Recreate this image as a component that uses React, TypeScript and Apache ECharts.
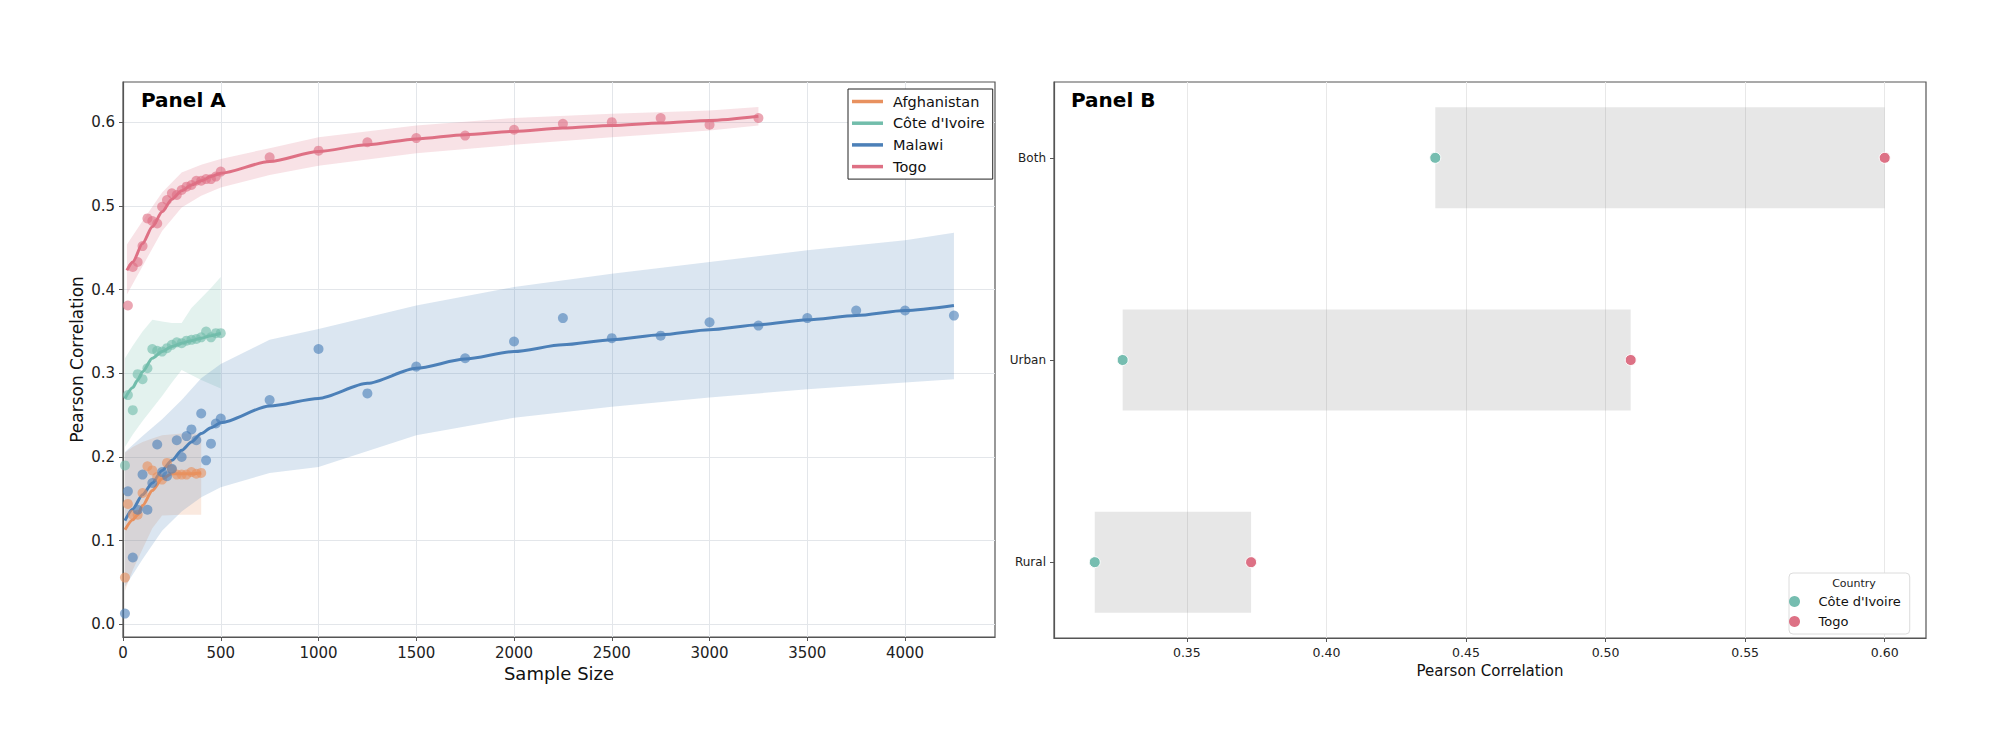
import React, { useEffect, useRef } from 'react';
import * as echarts from 'echarts';

const FONT = 'DejaVu Sans';

// ---------- Panel A ----------
const COUNTRIES = ['Afghanistan', "Côte d'Ivoire", 'Malawi', 'Togo'];
const LINE_COLORS = ['#E8915F', '#72BDAB', '#4C80B8', '#DE7084'];

const X_TICKS_A = [0, 500, 1000, 1500, 2000, 2500, 3000, 3500, 4000];
const Y_TICKS_A = [0, 0.1, 0.2, 0.3, 0.4, 0.5, 0.6];

// observed points
const N_AFG = [10, 25, 50, 75, 100, 125, 150, 175, 200, 225, 250, 275, 300, 325, 350, 375, 400];
const R_AFG = [0.056, 0.144, 0.131, 0.131, 0.157, 0.189, 0.184, 0.176, 0.173, 0.193, 0.185, 0.179, 0.179, 0.179, 0.182, 0.18, 0.181];

const N_CIV = [10, 25, 50, 75, 100, 125, 150, 175, 200, 225, 250, 275, 300, 325, 350, 375, 400, 425, 450, 475, 500];
const R_CIV = [0.19, 0.274, 0.256, 0.299, 0.293, 0.306, 0.329, 0.327, 0.326, 0.33, 0.334, 0.337, 0.336, 0.339, 0.34, 0.341, 0.343, 0.35, 0.343, 0.348, 0.348];

const N_MWI = [10, 25, 50, 75, 100, 125, 150, 175, 200, 225, 250, 275, 300, 325, 350, 375, 400, 425, 450, 475, 500,
  750, 1000, 1250, 1500, 1750, 2000, 2250, 2500, 2750, 3000, 3250, 3500, 3750, 4000, 4250];
const R_MWI = [0.013, 0.159, 0.08, 0.137, 0.179, 0.137, 0.169, 0.215, 0.182, 0.177, 0.186, 0.22, 0.2, 0.225, 0.233, 0.22, 0.252, 0.196, 0.216, 0.24, 0.246,
  0.268, 0.329, 0.276, 0.308, 0.318, 0.338, 0.366, 0.342, 0.345, 0.361, 0.357, 0.366, 0.375, 0.375, 0.369];

const N_TGO = [25, 50, 75, 100, 125, 150, 175, 200, 225, 250, 275, 300, 325, 350, 375, 400, 425, 450, 475, 500,
  750, 1000, 1250, 1500, 1750, 2000, 2250, 2500, 2750, 3000, 3250];
const R_TGO = [0.381, 0.427, 0.433, 0.452, 0.485, 0.482, 0.479, 0.499, 0.507, 0.515, 0.513, 0.519, 0.523, 0.525, 0.53, 0.53, 0.532, 0.532, 0.535, 0.541,
  0.558, 0.566, 0.576, 0.581, 0.584, 0.591, 0.598, 0.6, 0.605, 0.597, 0.605];

// fitted curves
const FIT_AFG_N = [10, 50, 75, 100, 150, 200, 250, 300, 350, 400];
const FIT_AFG = [0.113, 0.125, 0.131, 0.142, 0.16, 0.174, 0.18, 0.18, 0.18, 0.181];
const FIT_CIV_N = [10, 50, 75, 100, 150, 200, 250, 300, 350, 400, 450, 500];
const FIT_CIV = [0.27, 0.283, 0.292, 0.302, 0.318, 0.326, 0.332, 0.336, 0.339, 0.342, 0.345, 0.348];
const FIT_MWI_N = [10, 50, 100, 150, 200, 250, 300, 350, 400, 450, 500, 750, 1000, 1250, 1500, 1750, 2000, 2250, 2500, 2750, 3000, 3250, 3500, 3750, 4000, 4250];
const FIT_MWI = [0.124, 0.138, 0.155, 0.169, 0.184, 0.196, 0.208, 0.218, 0.228, 0.235, 0.241, 0.261, 0.27, 0.288, 0.306, 0.317, 0.326, 0.334, 0.34, 0.346, 0.352, 0.358, 0.364, 0.369, 0.375, 0.381];
const FIT_TGO_N = [20, 50, 100, 150, 200, 250, 300, 350, 400, 450, 500, 750, 1000, 1250, 1500, 1750, 2000, 2250, 2500, 2750, 3000, 3250];
const FIT_TGO = [0.423, 0.433, 0.455, 0.475, 0.493, 0.508, 0.518, 0.525, 0.53, 0.535, 0.539, 0.553, 0.565, 0.573, 0.58, 0.585, 0.589, 0.593, 0.596, 0.599, 0.602, 0.607];

// confidence bands
const BAND_AFG_N = [10, 50, 100, 150, 200, 300, 400];
const BAND_AFG_LO = [0.04, 0.065, 0.09, 0.115, 0.13, 0.131, 0.131];
const BAND_AFG_HI = [0.205, 0.212, 0.218, 0.222, 0.226, 0.228, 0.228];
const BAND_CIV_N = [10, 50, 100, 150, 200, 250, 300, 350, 400, 450, 500];
const BAND_CIV_LO = [0.212, 0.227, 0.243, 0.258, 0.273, 0.289, 0.304, 0.298, 0.292, 0.287, 0.282];
const BAND_CIV_HI = [0.318, 0.333, 0.35, 0.364, 0.362, 0.36, 0.36, 0.378, 0.39, 0.402, 0.415];
const BAND_MWI_N = [10, 100, 200, 300, 400, 500, 750, 1000, 1500, 2000, 2500, 3000, 3500, 4000, 4250];
const BAND_MWI_LO = [0.045, 0.078, 0.112, 0.135, 0.152, 0.164, 0.181, 0.188, 0.226, 0.247, 0.26, 0.271, 0.281, 0.289, 0.293];
const BAND_MWI_HI = [0.206, 0.225, 0.245, 0.268, 0.294, 0.311, 0.34, 0.353, 0.381, 0.403, 0.419, 0.433, 0.447, 0.459, 0.468];
const BAND_TGO_N = [20, 100, 200, 300, 400, 500, 750, 1000, 1500, 2000, 2500, 3000, 3250];
const BAND_TGO_LO = [0.394, 0.428, 0.47, 0.498, 0.512, 0.522, 0.537, 0.548, 0.563, 0.573, 0.582, 0.59, 0.596];
const BAND_TGO_HI = [0.454, 0.482, 0.516, 0.54, 0.549, 0.556, 0.569, 0.582, 0.596, 0.605, 0.61, 0.614, 0.618];

// ---------- Panel B ----------
const CATS_B = ['Rural', 'Urban', 'Both'];
const CIV_B = [0.317, 0.327, 0.439];
const TGO_B = [0.373, 0.509, 0.6];
const X_TICKS_B = [0.35, 0.4, 0.45, 0.5, 0.55, 0.6];
const TEAL_B = '#76BDB0';
const PINK_B = '#DD7185';

const zip = (a: number[], b: number[]) => a.map((v, i) => [v, b[i]]);

function bandSeries(n: number[], lo: number[], hi: number[], color: string) {
  return {
    type: 'custom',
    xAxisIndex: 0,
    yAxisIndex: 0,
    z: 1,
    silent: true,
    data: n.map((v, i) => [v, lo[i], hi[i]]),
    encode: { x: 0, y: [1, 2] },
    renderItem: (params: any, api: any) => {
      if (params.dataIndex !== 0) return null;
      const upper = n.map((v, i) => api.coord([v, hi[i]]));
      const lower = n.map((v, i) => api.coord([v, lo[i]])).reverse();
      return {
        type: 'polygon',
        shape: { points: upper.concat(lower) },
        style: { fill: color, opacity: 0.2 },
      };
    },
  };
}

export default function App() {
  const ref = useRef<HTMLDivElement>(null);

  useEffect(() => {
    if (!ref.current) return;
    const chart = echarts.init(ref.current, undefined, { renderer: 'svg' });

    const fits = [
      [FIT_AFG_N, FIT_AFG],
      [FIT_CIV_N, FIT_CIV],
      [FIT_MWI_N, FIT_MWI],
      [FIT_TGO_N, FIT_TGO],
    ];
    const pts = [
      [N_AFG, R_AFG],
      [N_CIV, R_CIV],
      [N_MWI, R_MWI],
      [N_TGO, R_TGO],
    ];
    const bands = [
      [BAND_AFG_N, BAND_AFG_LO, BAND_AFG_HI],
      [BAND_CIV_N, BAND_CIV_LO, BAND_CIV_HI],
      [BAND_MWI_N, BAND_MWI_LO, BAND_MWI_HI],
      [BAND_TGO_N, BAND_TGO_LO, BAND_TGO_HI],
    ];

    const lineSeries = COUNTRIES.map((name, i) => ({
      type: 'line',
      name,
      xAxisIndex: 0,
      yAxisIndex: 0,
      data: zip(fits[i][0], fits[i][1]),
      symbol: 'none',
      smooth: 0.25,
      smoothMonotone: 'x',
      lineStyle: { width: 3, color: LINE_COLORS[i] },
      itemStyle: { color: LINE_COLORS[i] },
      z: 3,
      silent: true,
    }));
    const scatterSeries = COUNTRIES.map((name, i) => ({
      type: 'scatter',
      name,
      xAxisIndex: 0,
      yAxisIndex: 0,
      data: zip(pts[i][0], pts[i][1]),
      symbolSize: 10,
      itemStyle: { color: LINE_COLORS[i], opacity: 0.62 },
      z: 4,
      silent: true,
    }));
    const bandList = COUNTRIES.map((_, i) => bandSeries(bands[i][0], bands[i][1], bands[i][2], LINE_COLORS[i]));

    const axisLineStyle = { color: '#555', width: 1.2 };

    const option: any = {
      animation: false,
      textStyle: { fontFamily: FONT },
      grid: [
        { left: 123, top: 82, width: 872, height: 555, show: true, borderColor: '#555', borderWidth: 1.2, backgroundColor: 'transparent' },
        { left: 1054, top: 82, width: 872, height: 556, show: true, borderColor: '#555', borderWidth: 1.2, backgroundColor: 'transparent' },
      ],
      xAxis: [
        {
          type: 'value', gridIndex: 0, min: 0, max: 4460, interval: 500,
          name: 'Sample Size', nameLocation: 'middle', nameGap: 27,
          nameTextStyle: { fontSize: 18, color: '#111', fontFamily: FONT },
          axisLine: { show: true, onZero: false, lineStyle: axisLineStyle },
          axisTick: { show: true, length: 4, lineStyle: { color: '#555' }, customValues: X_TICKS_A },
          axisLabel: { customValues: X_TICKS_A, fontSize: 15, color: '#222', margin: 8, fontFamily: FONT, formatter: (v: number) => String(Math.round(v)) },
          splitLine: { show: true, lineStyle: { color: '#e3e6ea', width: 1 } },
        },
        {
          type: 'value', gridIndex: 1, min: 0.3024, max: 0.6148,
          name: 'Pearson Correlation', nameLocation: 'middle', nameGap: 24,
          nameTextStyle: { fontSize: 15, color: '#111', fontFamily: FONT },
          axisLine: { show: true, onZero: false, lineStyle: axisLineStyle },
          axisTick: { show: true, length: 4, lineStyle: { color: '#555' }, customValues: X_TICKS_B },
          axisLabel: { customValues: X_TICKS_B, fontSize: 12.5, color: '#222', margin: 8, fontFamily: FONT, formatter: (v: number) => v.toFixed(2) },
          splitLine: { show: true, lineStyle: { color: '#e8e8e8', width: 1 } },
        },
      ],
      yAxis: [
        {
          type: 'value', gridIndex: 0, min: -0.015, max: 0.648,
          name: 'Pearson Correlation', nameLocation: 'middle', nameGap: 38, nameRotate: 90,
          nameTextStyle: { fontSize: 17, color: '#111', fontFamily: FONT },
          axisLine: { show: true, onZero: false, lineStyle: axisLineStyle },
          axisTick: { show: true, length: 4, lineStyle: { color: '#555' }, customValues: Y_TICKS_A },
          axisLabel: { customValues: Y_TICKS_A, fontSize: 15, color: '#222', margin: 8, fontFamily: FONT, formatter: (v: number) => v.toFixed(1) },
          splitLine: { show: true, lineStyle: { color: '#e3e6ea', width: 1 } },
        },
        {
          type: 'value', gridIndex: 1, min: -0.375, max: 2.375,
          axisLine: { show: true, onZero: false, lineStyle: axisLineStyle },
          axisTick: { show: true, length: 4, lineStyle: { color: '#555' }, customValues: [0, 1, 2] },
          axisLabel: { customValues: [0, 1, 2], fontSize: 12, color: '#222', margin: 8, fontFamily: FONT, formatter: (v: number) => CATS_B[Math.round(v)] ?? '' },
          splitLine: { show: false },
        },
      ],
      legend: [
        {
          orient: 'vertical', left: 848, top: 89,
          data: COUNTRIES.map((name, i) => ({ name, icon: 'rect', itemStyle: { color: LINE_COLORS[i], borderWidth: 0, opacity: 1 } })),
          itemWidth: 31, itemHeight: 3.5, itemGap: 6.7,
          padding: [5, 8, 5, 4],
          backgroundColor: '#fff', borderColor: '#222', borderWidth: 1, borderRadius: 0,
          textStyle: { fontSize: 14.5, color: '#111', fontFamily: FONT, lineHeight: 14, padding: [0, 0, 0, 5] },
          selectedMode: false,
        },
        {
          orient: 'vertical', left: 1789, top: 573,
          data: [
            { name: "Côte d'Ivoire", icon: 'circle', itemStyle: { color: TEAL_B, borderWidth: 0, opacity: 1 } },
            { name: 'Togo', icon: 'circle', itemStyle: { color: PINK_B, borderWidth: 0, opacity: 1 } },
          ],
          itemWidth: 38, itemHeight: 11, itemGap: 7,
          padding: [22, 9, 6, 0],
          backgroundColor: '#fff', borderColor: '#dcdcdc', borderWidth: 1, borderRadius: 4,
          textStyle: { fontSize: 13, color: '#111', fontFamily: FONT, lineHeight: 12 },
          selectedMode: false,
        },
      ],
      graphic: [
        { type: 'text', left: 141, top: 90, z: 100, style: { text: 'Panel A', font: `bold 20px "${FONT}"`, fill: '#000' } },
        { type: 'text', left: 1071, top: 90, z: 100, style: { text: 'Panel B', font: `bold 20px "${FONT}"`, fill: '#000' } },
        { type: 'text', x: 1854, y: 583, z: 100, style: { text: 'Country', font: `11px "${FONT}"`, fill: '#222', align: 'center', verticalAlign: 'middle' } },
      ],
      series: [
        ...lineSeries,
        ...bandList,
        ...scatterSeries,
        {
          type: 'custom',
          xAxisIndex: 1,
          yAxisIndex: 1,
          z: 1,
          silent: true,
          data: CATS_B.map((_, i) => [Math.min(CIV_B[i], TGO_B[i]), Math.max(CIV_B[i], TGO_B[i]), i]),
          encode: { x: [0, 1], y: 2 },
          renderItem: (params: any, api: any) => {
            const a = api.coord([api.value(0), api.value(2)]);
            const b = api.coord([api.value(1), api.value(2)]);
            const h = api.size([0, 0.5])[1];
            return {
              type: 'rect',
              shape: { x: a[0], y: a[1] - h / 2, width: b[0] - a[0], height: h },
              style: { fill: 'rgba(128,128,128,0.19)' },
            };
          },
        },
        {
          type: 'scatter', name: "Côte d'Ivoire", xAxisIndex: 1, yAxisIndex: 1,
          data: CIV_B.map((v, i) => [v, i]),
          symbolSize: 11,
          itemStyle: { color: TEAL_B, borderColor: '#fff', borderWidth: 1, opacity: 1 },
          z: 5, silent: true,
        },
        {
          type: 'scatter', name: 'Togo', xAxisIndex: 1, yAxisIndex: 1,
          data: TGO_B.map((v, i) => [v, i]),
          symbolSize: 11,
          itemStyle: { color: PINK_B, borderColor: '#fff', borderWidth: 1, opacity: 1 },
          z: 5, silent: true,
        },
      ],
    };

    chart.setOption(option);
    return () => chart.dispose();
  }, []);

  return <div ref={ref} style={{ position: 'absolute', left: 0, top: 0, width: 2000, height: 754, background: '#fff' }} />;
}
